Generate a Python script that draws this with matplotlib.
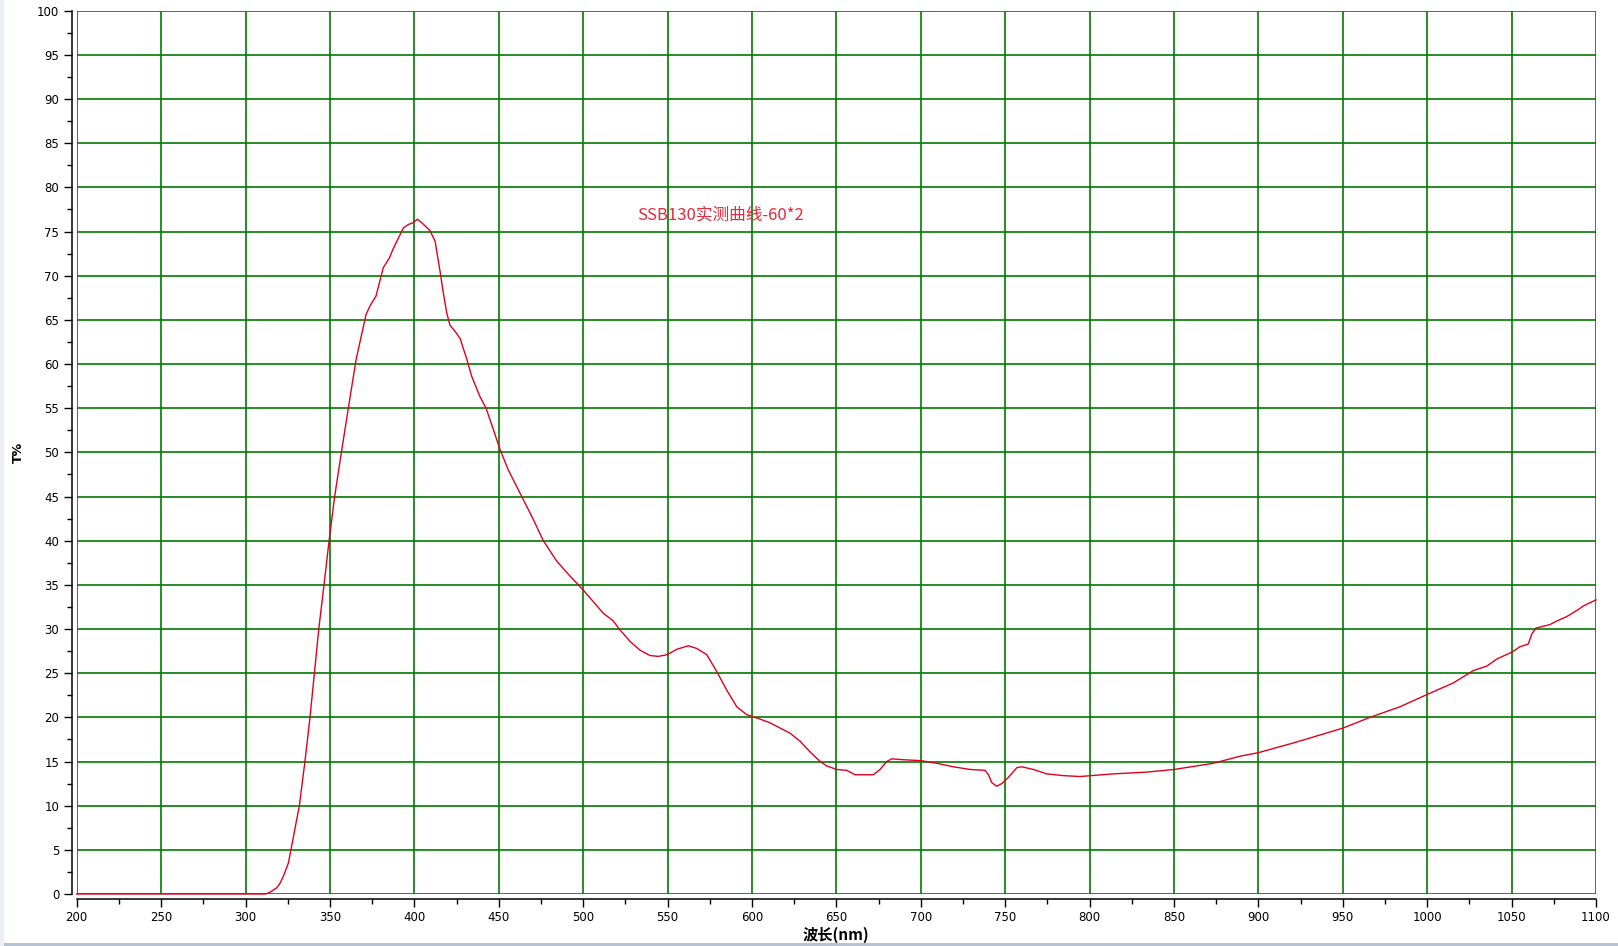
import matplotlib
matplotlib.use("Agg")
import matplotlib.pyplot as plt
from matplotlib.patches import Rectangle

wavelength = [200, 312, 314.5, 318.5, 320.4, 322.4, 325.4, 326.9, 331.9, 335.2, 338.2, 340.8, 343.4,
              346.5, 349.5, 352.8, 356.8, 360.9, 365.5, 371.4, 373.8, 377.3, 380.3, 381.6, 385.2,
              387.6, 393.5, 396.5, 399.4, 401.8, 404.4, 409.3, 412.3, 415.4, 417.2, 419.2, 421.1,
              424.1, 427.1, 431.0, 434.0, 438.9, 442.5, 446.8, 450.8, 455.7, 463.6, 470.5, 476.4,
              484.3, 492.2, 500.1, 506.0, 511.9, 517.9, 521.8, 527.8, 533.7, 539.6, 544.5, 549.9,
              555.4, 562.3, 567.3, 573.2, 579.1, 585.0, 591.0, 596.9, 604.8, 610.5, 616.6, 622.6,
              628.5, 634.4, 640.4, 644.3, 650.2, 656.1, 661.1, 666.0, 671.9, 675.9, 679.8, 682.8,
              689.7, 700, 709.5, 719.3, 729.2, 738.1, 740.1, 742.1, 745.0, 748.0, 751.9, 756.9,
              759.8, 766.7, 774.6, 784.5, 794.3, 814.1, 833.9, 850.2, 873.3, 889.1, 900, 920.7,
              936.5, 950.3, 966.1, 983.9, 1000.1, 1015.5, 1027.4, 1035.3, 1041.2, 1050.4, 1055.0,
              1059.9, 1061.9, 1064.4, 1072.7, 1076.7, 1082.6, 1089.5, 1092.4, 1100]
transmittance = [0, 0, 0.2, 0.7, 1.2, 2.0, 3.5, 5, 10, 15, 20, 25, 30,
                 35, 40, 45, 50, 55, 60.5, 65.6, 66.6, 67.7, 69.9, 70.9, 72.0,
                 73.1, 75.4, 75.8, 76.0, 76.4, 76.0, 75.1, 73.9, 70.3, 68.0, 65.8, 64.4,
                 63.7, 62.9, 60.6, 58.6, 56.3, 55.0, 52.6, 50.3, 48.0, 45.0, 42.4, 40.0,
                 37.7, 36.0, 34.4, 33.1, 31.8, 30.9, 29.9, 28.6, 27.6, 27.0, 26.9, 27.1,
                 27.7, 28.1, 27.8, 27.1, 25.2, 23.1, 21.2, 20.3, 19.8, 19.4, 18.8, 18.2,
                 17.3, 16.1, 15.0, 14.5, 14.1, 14.0, 13.5, 13.5, 13.5, 14.1, 15.0, 15.3,
                 15.2, 15.1, 14.8, 14.4, 14.1, 14.0, 13.5, 12.6, 12.2, 12.5, 13.2, 14.3,
                 14.4, 14.1, 13.6, 13.4, 13.3, 13.6, 13.8, 14.1, 14.8, 15.6, 16.0, 17.1,
                 18.0, 18.8, 20.0, 21.2, 22.6, 23.9, 25.3, 25.8, 26.6, 27.4, 28.0,
                 28.3, 29.4, 30.1, 30.5, 30.9, 31.4, 32.2, 32.6, 33.3]
x_ticks = list(range(200, 1101, 50))
y_ticks = list(range(0, 101, 5))
curve_label = "SSB130实测曲线-60*2"

CJK = ['Noto Sans CJK SC', 'DejaVu Sans']
GREEN = "#007a00"

fig = plt.figure(figsize=(16.18, 9.46), dpi=100, facecolor="white")
ax = fig.add_axes([76.7/1618, 1-894/946, (1596-76.7)/1618, (894-10.7)/946])
ax.set_xlim(200, 1100); ax.set_ylim(0, 100)

ax.set_xticks(x_ticks); ax.set_yticks(y_ticks)
ax.set_xticks(range(225, 1100, 50), minor=True)
ax.set_yticks([v + 2.5 for v in y_ticks[:-1]], minor=True)
ax.tick_params(which="major", length=6, width=1, labelsize=8.5, color="black", pad=3)
ax.tick_params(which="minor", length=3.5, width=1, color="black")

ax.grid(True, which="major", color=GREEN, lw=1.2)
ax.set_axisbelow(True)
for ln in ax.get_xgridlines() + ax.get_ygridlines():
    ln.set_clip_on(False)

for s in ("top", "right"):
    ax.spines[s].set_visible(False)
for s in ("left", "bottom"):
    ax.spines[s].set_position(("outward", 3.5))
    ax.spines[s].set_linewidth(1.1)

ax.plot(wavelength, transmittance, color="#e0001c", lw=1.0, clip_on=False, zorder=3)

ax.text(531.9, 76.9, curve_label, ha="left", va="center", fontsize=12,
        color="#e8283c", family=CJK)

ax.set_ylabel("T%", fontsize=9, fontweight="bold")
ax.yaxis.set_label_coords(-0.034, 0.5)
ax.set_xlabel("波长(nm)", fontsize=11, fontweight="bold", family=CJK, labelpad=2)

# window frame bits at the bottom and left edge
fig.patches.append(Rectangle((0, 0), 1, 3/946, transform=fig.transFigure,
                             fc="#b8c2d2", ec="none"))
fig.patches.append(Rectangle((0, 0), 4/1618, 1, transform=fig.transFigure,
                             fc="#eceef6", ec="none"))

fig.savefig("out.png", dpi=100, facecolor="white")
